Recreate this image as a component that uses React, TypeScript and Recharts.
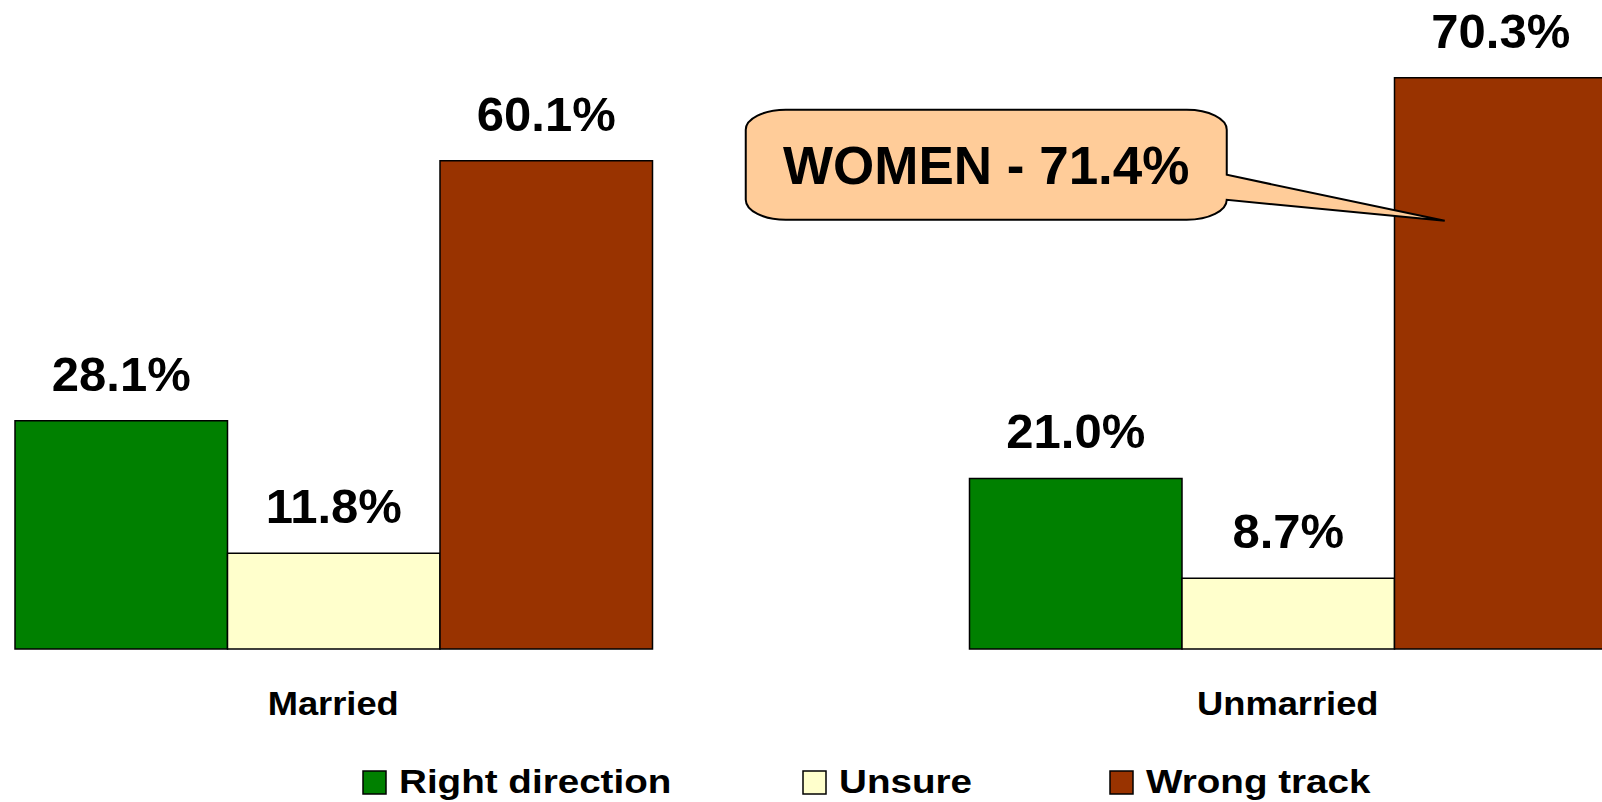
import React from 'react';
import { BarChart, Bar, XAxis, YAxis, Legend, LabelList, ReferenceDot } from 'recharts';

// Right direction / wrong track, by marital status
const CATEGORIES = ['Married', 'Unmarried'];
const RIGHT_DIRECTION = [28.1, 21.0];
const UNSURE = [11.8, 8.7];
const WRONG_TRACK = [60.1, 70.3];
const CALLOUT_TEXT = 'WOMEN - 71.4%';
const CALLOUT_CATEGORY = 'Unmarried';
const CALLOUT_TIP_VALUE = 52.7;

const FONT = '"Liberation Sans", Arial, sans-serif';
const COLORS = { right: '#008000', unsure: '#FFFFCC', wrong: '#993300' };
const LEGEND_X = [363, 803, 1110];

const data = CATEGORIES.map((name, i) => ({
  name,
  right: RIGHT_DIRECTION[i],
  unsure: UNSURE[i],
  wrong: WRONG_TRACK[i],
}));

const pct = (v: any) => `${Number(v).toFixed(1)}%`;

const CategoryTick = (props: any) => {
  const { x, y, payload } = props;
  return (
    <g transform={`translate(${x},${y + 66})`}>
      <text textAnchor="middle" transform="scale(1.1,1)" fontSize={33} fontWeight="bold" fontFamily={FONT} fill="#000">
        {payload.value}
      </text>
    </g>
  );
};

const LegendContent = (props: any) => {
  const items = props.payload || [];
  return (
    <svg width={1602} height={52} style={{ display: 'block' }}>
      {items.map((entry: any, i: number) => (
        <g key={entry.value} transform={`translate(${LEGEND_X[i]},0)`}>
          <rect x={0} y={22} width={23} height={23} fill={entry.color} stroke="#000" strokeWidth={1.5} />
          <g transform="translate(36,44.3)">
            <text transform="scale(1.17,1)" fontSize={33} fontWeight="bold" fontFamily={FONT} fill="#000">
              {entry.value}
            </text>
          </g>
        </g>
      ))}
    </svg>
  );
};

// speech bubble, drawn relative to the tip point
const Callout = (props: any) => {
  const { cx, cy } = props;
  const L = -699, R = -218, T = -111, B = -1;
  const rx = 40, ry = 20;
  const p1 = -46, p2 = B - ry;
  const d = `M${L + rx},${T} H${R - rx} A${rx},${ry} 0 0 1 ${R},${T + ry} V${p1} L0,0 L${R},${p2}
    A${rx},${ry} 0 0 1 ${R - rx},${B} H${L + rx} A${rx},${ry} 0 0 1 ${L},${B - ry} V${T + ry}
    A${rx},${ry} 0 0 1 ${L + rx},${T} Z`;
  return (
    <g transform={`translate(${cx + 157},${cy})`}>
      <path d={d} fill="#FFCC99" stroke="#000" strokeWidth={2} />
      <text x={(L + R) / 2} y={-37} textAnchor="middle" fontSize={53} fontWeight="bold" fontFamily={FONT} fill="#000">
        {CALLOUT_TEXT}
      </text>
    </g>
  );
};

const labelStyle = { fontSize: 49, fontWeight: 'bold', fontFamily: FONT, fill: '#000' };

export default function App() {
  return (
    <div style={{ position: 'absolute', left: 0, top: 0, width: 1602, height: 802, overflow: 'hidden', background: '#fff' }}>
      <div style={{ position: 'absolute', left: -144, top: -1 }}>
        <BarChart
          width={1909}
          height={802}
          data={data}
          margin={{ top: 0, right: 0, bottom: 0, left: 0 }}
          barGap={0}
        >
          <XAxis
            dataKey="name"
            axisLine={false}
            tickLine={false}
            tickSize={0}
            tickMargin={0}
            height={100}
            tick={<CategoryTick />}
          />
          <YAxis hide domain={[0, 80]} />
          <Legend
            verticalAlign="bottom"
            height={52}
            wrapperStyle={{ left: 144, bottom: 0, width: 1602 }}
            content={<LegendContent />}
          />
          <Bar dataKey="right" name="Right direction" fill={COLORS.right} stroke="#000" strokeWidth={1.5} barSize={212.5} isAnimationActive={false}>
            <LabelList dataKey="right" position="top" offset={30} formatter={pct} style={labelStyle} />
          </Bar>
          <Bar dataKey="unsure" name="Unsure" fill={COLORS.unsure} stroke="#000" strokeWidth={1.5} barSize={212.5} isAnimationActive={false}>
            <LabelList dataKey="unsure" position="top" offset={30} formatter={pct} style={labelStyle} />
          </Bar>
          <Bar dataKey="wrong" name="Wrong track" fill={COLORS.wrong} stroke="#000" strokeWidth={1.5} barSize={212.5} isAnimationActive={false}>
            <LabelList dataKey="wrong" position="top" offset={30} formatter={pct} style={labelStyle} />
          </Bar>
          <ReferenceDot x={CALLOUT_CATEGORY} y={CALLOUT_TIP_VALUE} r={0} ifOverflow="visible" shape={<Callout />} />
        </BarChart>
      </div>
    </div>
  );
}
